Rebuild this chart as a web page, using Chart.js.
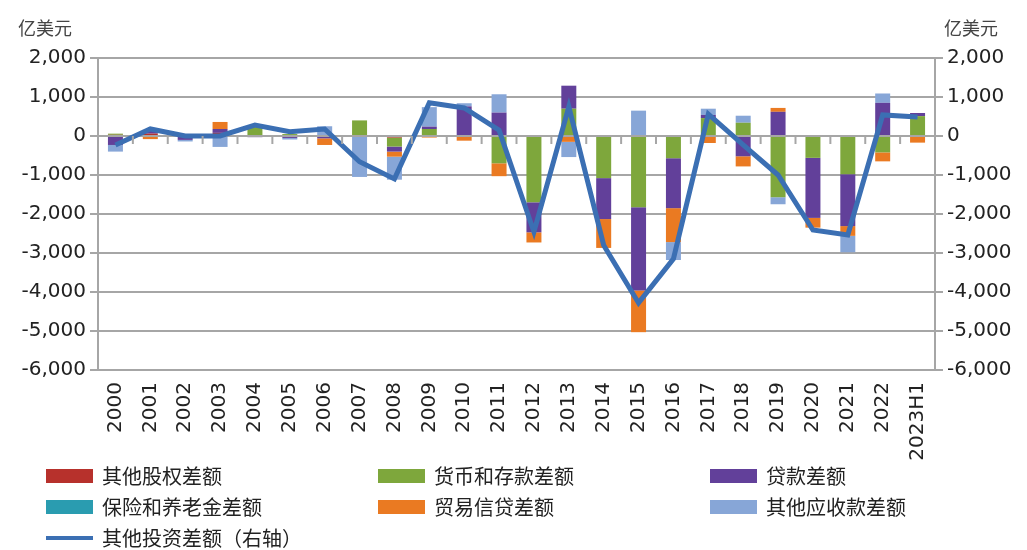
<!DOCTYPE html>
<html>
<head>
<meta charset="utf-8">
<script src="https://cdn.jsdelivr.net/npm/chart.js@4.4.0/dist/chart.umd.min.js"></script>
<style>
    body { margin: 0; background: #fff; }
    #wrap { position: relative; width: 1027px; height: 550px; overflow: hidden; }
    #chart { position: absolute; left: 0; top: 0; }
    .unit { position: absolute; top: 14px; font-size: 18px; color: #444; font-family: "Noto Sans CJK SC", sans-serif; }
    #legend { position: absolute; left: 46px; top: 463px; display: grid; grid-template-columns: 332px 332px 300px; row-gap: 6px; }
    .item { display: flex; align-items: center; height: 25px; font-size: 20px; color: #222; font-family: "Noto Sans CJK SC", sans-serif; }
    .box { width: 47px; height: 14px; margin-right: 9px; }
    .ln { width: 47px; height: 4px; margin-right: 9px; }
</style>
</head>
<body>
<div id="wrap">
    <canvas id="chart" width="1027" height="550"></canvas>
    <div class="unit" style="left:18px">亿美元</div>
    <div class="unit" style="left:944px">亿美元</div>
    <div id="legend"></div>
</div>
<script>
const years = ['2000', '2001', '2002', '2003', '2004', '2005', '2006', '2007', '2008', '2009', '2010', '2011',
    '2012', '2013', '2014', '2015', '2016', '2017', '2018', '2019', '2020', '2021', '2022', '2023H1'];

// 亿美元
const equity    = [30, 60, 0, 80, 0, 0, 0, 0, -40, 0, 0, 0, 0, 0, 0, 0, 0, 0, 0, 0, 0, 0, 0, 0];
const currency  = [30, 0, 30, 0, 230, 50, 0, 400, -230, 180, 0, -700, -1700, 700, -1080, -1830, -570, 460, 340, -1570, -560, -980, -420, 510];
const loans     = [-230, 90, -100, 100, -30, -50, -60, 0, -130, 60, 760, 600, -770, 590, -1050, -2130, -1280, 80, -520, 620, -1540, -1330, 850, 80];
const insurance = [0, 0, 0, 0, 0, 0, 0, 0, 0, 0, 0, 0, 0, 0, 0, 0, 0, 0, 0, 0, 0, 0, 0, 0];
const trade     = [0, -80, 0, 180, 0, 0, -170, 0, -130, -40, -120, -330, -260, -150, -740, -1070, -870, -180, -260, 100, -250, -250, -230, -170];
const otherRecv = [-170, 0, -40, -280, 0, -40, 250, -1050, -590, 500, 80, 470, 0, -390, 0, 650, -460, 160, 180, -180, 0, -420, 240, 0];
const otherInv  = [-230, 180, 0, 0, 280, 110, 180, -660, -1100, 850, 720, 150, -2460, 750, -2800, -4280, -3150, 560, -230, -1000, -2410, -2540, 540, 490];

const yTicks = [2000, 1000, 0, -1000, -2000, -3000, -4000, -5000, -6000];

const gridGray = '#a6a6a6';
const font = { family: '"DejaVu Sans", "Noto Sans CJK SC", sans-serif', size: 20 };

function bar(label, data, color) {
    return {
        type: 'bar', label: label, data: data, backgroundColor: color,
        yAxisID: 'y', stack: 's', order: 1,
        barPercentage: 0.43, categoryPercentage: 1
    };
}

// small tick marks under the zero line between categories
const zeroTicks = {
    id: 'zeroTicks',
    afterDatasetsDraw(chart) {
        const x = chart.scales.x, y = chart.scales.y;
        const ctx = chart.ctx;
        const y0 = y.getPixelForValue(0);
        ctx.save();
        ctx.strokeStyle = gridGray;
        ctx.lineWidth = 2;
        for (let i = 1; i < years.length; i++) {
            const px = (x.getPixelForValue(i - 1) + x.getPixelForValue(i)) / 2;
            ctx.beginPath();
            ctx.moveTo(px, y0);
            ctx.lineTo(px, y0 + 8);
            ctx.stroke();
        }
        ctx.restore();
    }
};

const chart = new Chart(document.getElementById('chart'), {
    data: {
        labels: years,
        datasets: [
            bar('其他股权差额', equity, '#b7312c'),
            bar('货币和存款差额', currency, '#7ea73c'),
            bar('贷款差额', loans, '#62409a'),
            bar('保险和养老金差额', insurance, '#2a9cb0'),
            bar('贸易信贷差额', trade, '#ea7a22'),
            bar('其他应收款差额', otherRecv, '#87a6d7'),
            {
                type: 'line', label: '其他投资差额（右轴）', data: otherInv,
                borderColor: '#3b6fb3', borderWidth: 5, pointRadius: 0,
                tension: 0, yAxisID: 'y1', order: 0
            }
        ]
    },
    options: {
        responsive: false,
        animation: false,
        layout: { padding: { top: 58, bottom: 0, left: 0, right: 0 } },
        plugins: { legend: { display: false }, tooltip: { enabled: false } },
        scales: {
            x: {
                stacked: true,
                grid: { display: false },
                border: { display: false },
                ticks: { color: '#222', font: font, minRotation: 90, maxRotation: 90, padding: 4 },
                afterFit: s => { s.height = 180; }
            },
            y: {
                stacked: true, position: 'left', min: -6000, max: 2000,
                afterBuildTicks: s => { s.ticks = yTicks.map(v => ({ value: v })); },
                ticks: { color: '#222', font: font, padding: 4, callback: v => v.toLocaleString('en-US') },
                grid: { color: gridGray, lineWidth: 2, tickLength: 8 },
                border: { color: gridGray, width: 2 },
                afterFit: s => { s.width = 98; }
            },
            y1: {
                position: 'right', min: -6000, max: 2000,
                afterBuildTicks: s => { s.ticks = yTicks.map(v => ({ value: v })); },
                ticks: { color: '#222', font: font, padding: 4, callback: v => v.toLocaleString('en-US') },
                grid: { drawOnChartArea: false, color: gridGray, lineWidth: 2, tickLength: 8 },
                border: { color: gridGray, width: 2 },
                afterFit: s => { s.width = 92; }
            }
        }
    },
    plugins: [zeroTicks]
});

// legend in three columns, same order as the datasets
const legend = document.getElementById('legend');
chart.data.datasets.forEach(ds => {
    const item = document.createElement('div');
    item.className = 'item';
    const mark = document.createElement('span');
    if (ds.type === 'line') {
        mark.className = 'ln';
        mark.style.background = ds.borderColor;
    } else {
        mark.className = 'box';
        mark.style.background = ds.backgroundColor;
    }
    item.appendChild(mark);
    item.appendChild(document.createTextNode(ds.label));
    legend.appendChild(item);
});
</script>
</body>
</html>
